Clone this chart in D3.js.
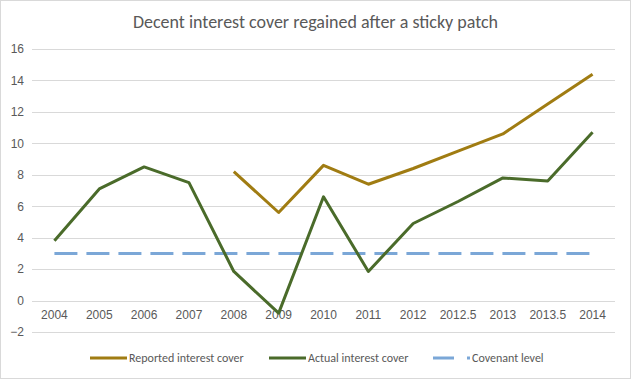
<!DOCTYPE html>
<html>
<head>
<meta charset="utf-8">
<script src="https://cdn.jsdelivr.net/npm/d3@7"></script>
<style>
  body { margin: 0; background: #fff; }
  svg { font-family: Calibri, Carlito, "Open Sans", "Liberation Sans", sans-serif; }
</style>
</head>
<body>
<div id="chart"></div>
<script>
// chart data
const years = ['2004', '2005', '2006', '2007', '2008', '2009', '2010', '2011', '2012', '2012.5', '2013', '2013.5', '2014'];
const reported = [null, null, null, null, 8.2, 5.6, 8.6, 7.4, 8.4, 9.5, 10.6, 12.5, 14.4];
const actual = [3.8, 7.1, 8.5, 7.5, 1.85, -0.8, 6.6, 1.85, 4.9, 6.3, 7.8, 7.6, 10.7];
const covenant = [3, 3, 3, 3, 3, 3, 3, 3, 3, 3, 3, 3, 3];
const yTicks = [-2, 0, 2, 4, 6, 8, 10, 12, 14, 16];

const W = 631, H = 379;
const margin = {top: 49, right: 16, bottom: 47, left: 32};
const width = W - margin.left - margin.right;
const height = H - margin.top - margin.bottom;

const svg = d3.select('#chart').append('svg')
  .attr('width', W).attr('height', H);

svg.append('rect').attr('x', 0.5).attr('y', 0.5)
  .attr('width', W - 1).attr('height', H - 1)
  .attr('fill', '#fff').attr('stroke', '#d9d9d9');

svg.append('text').attr('x', W / 2).attr('y', 28)
  .attr('text-anchor', 'middle').attr('fill', '#595959')
  .attr('font-size', 18).text('Decent interest cover regained after a sticky patch');

const g = svg.append('g').attr('transform', `translate(${margin.left},${margin.top})`);

const x = d3.scaleBand().domain(years).range([0, width]);
const y = d3.scaleLinear().domain([-2, 16]).range([height, 0]);
const cx = d => x(d) + x.bandwidth() / 2;

// gridlines
g.append('g').selectAll('line').data(yTicks).enter().append('line')
  .attr('x1', 0).attr('x2', width)
  .attr('y1', d => Math.round(y(d)) + 0.5).attr('y2', d => Math.round(y(d)) + 0.5)
  .attr('stroke', '#d9d9d9');

// y labels
const yAxis = g.append('g').call(d3.axisLeft(y).tickValues(yTicks).tickSize(0).tickPadding(8));
yAxis.select('.domain').remove();
yAxis.selectAll('text').attr('fill', '#595959').attr('font-size', 12)
  .attr('font-family', 'inherit');

// x labels sit below the zero line
const xAxis = g.append('g').attr('transform', `translate(0,${y(0)})`)
  .call(d3.axisBottom(x).tickSize(0).tickPadding(10));
xAxis.select('.domain').remove();
xAxis.selectAll('text').attr('fill', '#595959').attr('font-size', 12)
  .attr('font-family', 'inherit');

const line = d3.line().defined(d => d.v != null).x(d => cx(d.k)).y(d => y(d.v));
const pts = arr => years.map((k, i) => ({k, v: arr[i]}));

g.append('path').datum(pts(covenant))
  .attr('fill', 'none').attr('stroke', '#7ba7d7').attr('stroke-width', 3)
  .attr('stroke-dasharray', '23,9').attr('d', line);

g.append('path').datum(pts(actual))
  .attr('fill', 'none').attr('stroke', '#4a6b2a').attr('stroke-width', 3)
  .attr('stroke-linejoin', 'round').attr('d', line);

g.append('path').datum(pts(reported))
  .attr('fill', 'none').attr('stroke', '#a07c12').attr('stroke-width', 3)
  .attr('stroke-linejoin', 'round').attr('d', line);

// legend
const legend = [
  {name: 'Reported interest cover', color: '#a07c12', x: 90, len: 37, dash: null},
  {name: 'Actual interest cover', color: '#4a6b2a', x: 269, len: 37, dash: null},
  {name: 'Covenant level', color: '#7ba7d7', x: 433, len: 37, dash: '21,13'}
];
const lg = svg.append('g').selectAll('g').data(legend).enter().append('g')
  .attr('transform', d => `translate(${d.x},358)`);
lg.append('line').attr('x1', 0).attr('x2', d => d.len).attr('y1', 0).attr('y2', 0)
  .attr('stroke', d => d.color).attr('stroke-width', 3)
  .attr('stroke-dasharray', d => d.dash);
lg.append('text').attr('x', d => d.len + 2).attr('y', 4)
  .attr('fill', '#595959').attr('font-size', 12).text(d => d.name);
</script>
</body>
</html>
